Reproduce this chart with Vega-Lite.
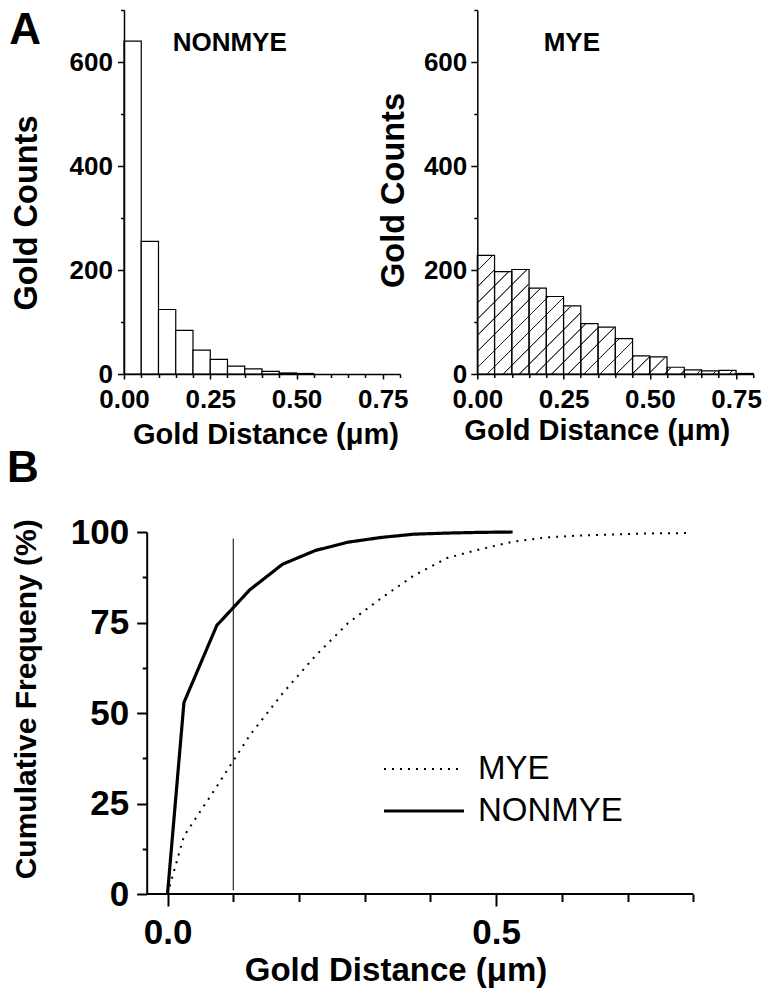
{
  "$schema": "https://vega.github.io/schema/vega-lite/v6.json",
  "background": "white",
  "padding": {"left": 6, "top": 9, "right": 5, "bottom": 5},
  "config": {
    "view": {"stroke": null},
    "font": "Liberation Sans",
    "axis": {"domainColor": "black", "domainWidth": 1.5, "tickColor": "black", "tickWidth": 1.5, "labelColor": "black", "labelFont": "Liberation Sans", "labelFontWeight": "bold", "titleColor": "black", "titleFont": "Liberation Sans", "titleFontWeight": "bold", "grid": false, "labelOverlap": false, "labelFlush": false, "tickCount": 100}
  },
  "datasets": {
    "hist": [
      {"series": "NONMYE", "start": 0.0, "end": 0.05, "count": 640},
      {"series": "NONMYE", "start": 0.05, "end": 0.1, "count": 255},
      {"series": "NONMYE", "start": 0.1, "end": 0.15, "count": 124},
      {"series": "NONMYE", "start": 0.15, "end": 0.2, "count": 84},
      {"series": "NONMYE", "start": 0.2, "end": 0.25, "count": 46},
      {"series": "NONMYE", "start": 0.25, "end": 0.3, "count": 28},
      {"series": "NONMYE", "start": 0.3, "end": 0.35, "count": 15},
      {"series": "NONMYE", "start": 0.35, "end": 0.4, "count": 10},
      {"series": "NONMYE", "start": 0.4, "end": 0.45, "count": 5},
      {"series": "NONMYE", "start": 0.45, "end": 0.5, "count": 2},
      {"series": "NONMYE", "start": 0.5, "end": 0.55, "count": 1},
      {"series": "MYE", "start": 0.0, "end": 0.05, "count": 228},
      {"series": "MYE", "start": 0.05, "end": 0.1, "count": 197},
      {"series": "MYE", "start": 0.1, "end": 0.15, "count": 201},
      {"series": "MYE", "start": 0.15, "end": 0.2, "count": 165},
      {"series": "MYE", "start": 0.2, "end": 0.25, "count": 149},
      {"series": "MYE", "start": 0.25, "end": 0.3, "count": 131},
      {"series": "MYE", "start": 0.3, "end": 0.35, "count": 97},
      {"series": "MYE", "start": 0.35, "end": 0.4, "count": 90},
      {"series": "MYE", "start": 0.4, "end": 0.45, "count": 68},
      {"series": "MYE", "start": 0.45, "end": 0.5, "count": 35},
      {"series": "MYE", "start": 0.5, "end": 0.55, "count": 33},
      {"series": "MYE", "start": 0.55, "end": 0.6, "count": 13},
      {"series": "MYE", "start": 0.6, "end": 0.65, "count": 8},
      {"series": "MYE", "start": 0.65, "end": 0.7, "count": 6},
      {"series": "MYE", "start": 0.7, "end": 0.75, "count": 7},
      {"series": "MYE", "start": 0.75, "end": 0.8, "count": 1}
    ],
    "cum": [
      {"series": "NONMYE", "distance": 0.0, "freq": 0},
      {"series": "NONMYE", "distance": 0.025, "freq": 52.9},
      {"series": "NONMYE", "distance": 0.075, "freq": 74.2},
      {"series": "NONMYE", "distance": 0.125, "freq": 84.0},
      {"series": "NONMYE", "distance": 0.175, "freq": 91.1},
      {"series": "NONMYE", "distance": 0.225, "freq": 94.9},
      {"series": "NONMYE", "distance": 0.275, "freq": 97.2},
      {"series": "NONMYE", "distance": 0.325, "freq": 98.5},
      {"series": "NONMYE", "distance": 0.375, "freq": 99.4},
      {"series": "NONMYE", "distance": 0.425, "freq": 99.7},
      {"series": "NONMYE", "distance": 0.475, "freq": 99.9},
      {"series": "NONMYE", "distance": 0.525, "freq": 100},
      {"series": "MYE", "distance": 0.0, "freq": 0},
      {"series": "MYE", "distance": 0.025, "freq": 16.0},
      {"series": "MYE", "distance": 0.075, "freq": 29.7},
      {"series": "MYE", "distance": 0.125, "freq": 43.8},
      {"series": "MYE", "distance": 0.175, "freq": 55.4},
      {"series": "MYE", "distance": 0.225, "freq": 65.8},
      {"series": "MYE", "distance": 0.275, "freq": 74.9},
      {"series": "MYE", "distance": 0.325, "freq": 81.7},
      {"series": "MYE", "distance": 0.375, "freq": 88.0},
      {"series": "MYE", "distance": 0.425, "freq": 92.8},
      {"series": "MYE", "distance": 0.475, "freq": 95.2},
      {"series": "MYE", "distance": 0.525, "freq": 97.3},
      {"series": "MYE", "distance": 0.575, "freq": 98.5},
      {"series": "MYE", "distance": 0.625, "freq": 99.0},
      {"series": "MYE", "distance": 0.675, "freq": 99.3},
      {"series": "MYE", "distance": 0.725, "freq": 99.6},
      {"series": "MYE", "distance": 0.79, "freq": 99.7}
    ]
  },
  "columns": 2,
  "bounds": "flush",
  "spacing": {"row": 158, "column": 77.3},
  "concat": [
    {
      "width": 276, "height": 364,
      "layer": [
        {
          "data": {"name": "hist"},
          "transform": [{"filter": "datum.series == 'NONMYE'"}],
          "mark": {"type": "rect", "fill": "white", "stroke": "black", "strokeWidth": 1.2},
          "encoding": {
            "x": {"field": "start", "type": "quantitative", "title": "Gold Distance (μm)",
              "scale": {"domain": [0, 0.8], "nice": false, "zero": false},
              "axis": {"values": [0, 0.05, 0.1, 0.15, 0.2, 0.25, 0.3, 0.35, 0.4, 0.45, 0.5, 0.55, 0.6, 0.65, 0.7, 0.75, 0.8],
                "labelExpr": "abs(datum.value * 4 - round(datum.value * 4)) < 0.001 && datum.value < 0.79 ? format(datum.value, '.2f') : ''",
                "tickSize": {"condition": {"test": "abs(datum.value * 4 - round(datum.value * 4)) > 0.001", "value": 3.5}, "value": 5},
                "labelFontSize": 26, "labelPadding": 7, "titleFontSize": 29, "titleX": 141.5, "titleY": 69, "titleBaseline": "alphabetic", "titleAlign": "center", "zindex": 1}},
            "x2": {"field": "end"},
            "y": {"field": "count", "type": "quantitative", "title": "Gold Counts",
              "scale": {"domain": [0, 700], "nice": false},
              "axis": {"values": [0, 100, 200, 300, 400, 500, 600, 700],
                "labelExpr": "datum.value % 200 == 0 && datum.value < 700 ? format(datum.value, 'd') : ''",
                "labelFontSize": {"condition": {"test": "datum.value % 200 != 0", "value": 0}, "value": 26},
                "tickSize": {"condition": {"test": "datum.value % 200 != 0", "value": 3.5}, "value": 6.5},
                "labelPadding": 5, "titleFontSize": 32.5, "titleX": -87.5, "titleY": 202.5, "titleAngle": -90, "titleBaseline": "alphabetic", "titleAlign": "center", "zindex": 1}},
            "y2": {"datum": 0}
          }
        },
        {
          "data": {"values": [{"label": "NONMYE"}]},
          "mark": {"type": "text", "fontSize": 26, "fontWeight": "bold", "font": "Liberation Sans", "baseline": "alphabetic", "align": "center", "color": "black"},
          "encoding": {"text": {"field": "label"}, "x": {"datum": 0.3065, "type": "quantitative"}, "y": {"datum": 621.7, "type": "quantitative"}}
        },
        {
          "data": {"values": [{"label": "A"}]},
          "mark": {"type": "text", "fontSize": 44, "fontWeight": "bold", "font": "Liberation Sans", "baseline": "top", "align": "left", "color": "black"},
          "encoding": {"text": {"field": "label"}, "x": {"datum": -0.3325, "type": "quantitative"}, "y": {"datum": 701.9, "type": "quantitative"}}
        }
      ]
    },
    {
      "width": 276, "height": 364,
      "layer": [
        {
          "data": {"values": [{}]},
          "mark": {"type": "rect", "stroke": null, "fill": {"gradient": "linear", "x1": 0, "y1": 0, "x2": 1.205, "y2": 0.556, "stops": [
            {"offset": 0, "color": "white"},
            {"offset": 0.0176, "color": "white"}, {"offset": 0.0192, "color": "#222"}, {"offset": 0.0208, "color": "#222"}, {"offset": 0.0224, "color": "white"},
            {"offset": 0.0576, "color": "white"}, {"offset": 0.0592, "color": "#222"}, {"offset": 0.0608, "color": "#222"}, {"offset": 0.0624, "color": "white"},
            {"offset": 0.0976, "color": "white"}, {"offset": 0.0992, "color": "#222"}, {"offset": 0.1008, "color": "#222"}, {"offset": 0.1024, "color": "white"},
            {"offset": 0.1376, "color": "white"}, {"offset": 0.1392, "color": "#222"}, {"offset": 0.1408, "color": "#222"}, {"offset": 0.1424, "color": "white"},
            {"offset": 0.1776, "color": "white"}, {"offset": 0.1792, "color": "#222"}, {"offset": 0.1808, "color": "#222"}, {"offset": 0.1824, "color": "white"},
            {"offset": 0.2176, "color": "white"}, {"offset": 0.2192, "color": "#222"}, {"offset": 0.2208, "color": "#222"}, {"offset": 0.2224, "color": "white"},
            {"offset": 0.2576, "color": "white"}, {"offset": 0.2592, "color": "#222"}, {"offset": 0.2608, "color": "#222"}, {"offset": 0.2624, "color": "white"},
            {"offset": 0.2976, "color": "white"}, {"offset": 0.2992, "color": "#222"}, {"offset": 0.3008, "color": "#222"}, {"offset": 0.3024, "color": "white"},
            {"offset": 0.3376, "color": "white"}, {"offset": 0.3392, "color": "#222"}, {"offset": 0.3408, "color": "#222"}, {"offset": 0.3424, "color": "white"},
            {"offset": 0.3776, "color": "white"}, {"offset": 0.3792, "color": "#222"}, {"offset": 0.3808, "color": "#222"}, {"offset": 0.3824, "color": "white"},
            {"offset": 0.4176, "color": "white"}, {"offset": 0.4192, "color": "#222"}, {"offset": 0.4208, "color": "#222"}, {"offset": 0.4224, "color": "white"},
            {"offset": 0.4576, "color": "white"}, {"offset": 0.4592, "color": "#222"}, {"offset": 0.4608, "color": "#222"}, {"offset": 0.4624, "color": "white"},
            {"offset": 0.4976, "color": "white"}, {"offset": 0.4992, "color": "#222"}, {"offset": 0.5008, "color": "#222"}, {"offset": 0.5024, "color": "white"},
            {"offset": 0.5376, "color": "white"}, {"offset": 0.5392, "color": "#222"}, {"offset": 0.5408, "color": "#222"}, {"offset": 0.5424, "color": "white"},
            {"offset": 0.5776, "color": "white"}, {"offset": 0.5792, "color": "#222"}, {"offset": 0.5808, "color": "#222"}, {"offset": 0.5824, "color": "white"},
            {"offset": 0.6176, "color": "white"}, {"offset": 0.6192, "color": "#222"}, {"offset": 0.6208, "color": "#222"}, {"offset": 0.6224, "color": "white"},
            {"offset": 0.6576, "color": "white"}, {"offset": 0.6592, "color": "#222"}, {"offset": 0.6608, "color": "#222"}, {"offset": 0.6624, "color": "white"},
            {"offset": 0.6976, "color": "white"}, {"offset": 0.6992, "color": "#222"}, {"offset": 0.7008, "color": "#222"}, {"offset": 0.7024, "color": "white"},
            {"offset": 0.7376, "color": "white"}, {"offset": 0.7392, "color": "#222"}, {"offset": 0.7408, "color": "#222"}, {"offset": 0.7424, "color": "white"},
            {"offset": 0.7776, "color": "white"}, {"offset": 0.7792, "color": "#222"}, {"offset": 0.7808, "color": "#222"}, {"offset": 0.7824, "color": "white"},
            {"offset": 0.8176, "color": "white"}, {"offset": 0.8192, "color": "#222"}, {"offset": 0.8208, "color": "#222"}, {"offset": 0.8224, "color": "white"},
            {"offset": 0.8576, "color": "white"}, {"offset": 0.8592, "color": "#222"}, {"offset": 0.8608, "color": "#222"}, {"offset": 0.8624, "color": "white"},
            {"offset": 0.8976, "color": "white"}, {"offset": 0.8992, "color": "#222"}, {"offset": 0.9008, "color": "#222"}, {"offset": 0.9024, "color": "white"},
            {"offset": 0.9376, "color": "white"}, {"offset": 0.9392, "color": "#222"}, {"offset": 0.9408, "color": "#222"}, {"offset": 0.9424, "color": "white"},
            {"offset": 0.9776, "color": "white"}, {"offset": 0.9792, "color": "#222"}, {"offset": 0.9808, "color": "#222"}, {"offset": 0.9824, "color": "white"},
            {"offset": 1, "color": "white"}
          ]}},
          "encoding": {"x": {"datum": 0, "type": "quantitative"}, "x2": {"datum": 0.8}, "y": {"datum": 0, "type": "quantitative"}, "y2": {"datum": 245}}
        },
        {
          "data": {"name": "hist"},
          "transform": [{"filter": "datum.series == 'MYE'"}],
          "mark": {"type": "rect", "fill": "white", "stroke": "white", "strokeWidth": 1},
          "encoding": {
            "x": {"field": "start", "type": "quantitative", "title": "Gold Distance (μm)"},
            "x2": {"field": "end"},
            "y": {"field": "count", "type": "quantitative", "title": "Gold Counts"},
            "y2": {"datum": 250}
          }
        },
        {
          "data": {"name": "hist"},
          "transform": [{"filter": "datum.series == 'MYE'"}],
          "mark": {"type": "rect", "fillOpacity": 0, "stroke": "black", "strokeWidth": 1.2},
          "encoding": {
            "x": {"field": "start", "type": "quantitative", "title": "Gold Distance (μm)",
              "scale": {"domain": [0, 0.8], "nice": false, "zero": false},
              "axis": {"values": [0, 0.05, 0.1, 0.15, 0.2, 0.25, 0.3, 0.35, 0.4, 0.45, 0.5, 0.55, 0.6, 0.65, 0.7, 0.75, 0.8],
                "labelExpr": "abs(datum.value * 4 - round(datum.value * 4)) < 0.001 && datum.value < 0.79 ? format(datum.value, '.2f') : ''",
                "tickSize": {"condition": {"test": "abs(datum.value * 4 - round(datum.value * 4)) > 0.001", "value": 3.5}, "value": 5},
                "labelFontSize": 26, "labelPadding": 7, "titleFontSize": 29, "titleX": 119.5, "titleY": 65, "titleBaseline": "alphabetic", "titleAlign": "center", "zindex": 1}},
            "x2": {"field": "end"},
            "y": {"field": "count", "type": "quantitative", "title": "Gold Counts",
              "scale": {"domain": [0, 700], "nice": false},
              "axis": {"values": [0, 100, 200, 300, 400, 500, 600, 700],
                "labelExpr": "datum.value % 200 == 0 && datum.value < 700 ? format(datum.value, 'd') : ''",
                "labelFontSize": {"condition": {"test": "datum.value % 200 != 0", "value": 0}, "value": 26},
                "tickSize": {"condition": {"test": "datum.value % 200 != 0", "value": 3.5}, "value": 6.5},
                "labelPadding": 4, "titleFontSize": 32.5, "titleX": -74, "titleY": 180, "titleAngle": -90, "titleBaseline": "alphabetic", "titleAlign": "center", "zindex": 1}},
            "y2": {"datum": 0}
          }
        },
        {
          "data": {"values": [{"label": "MYE"}]},
          "mark": {"type": "text", "fontSize": 26, "fontWeight": "bold", "font": "Liberation Sans", "baseline": "alphabetic", "align": "center", "color": "black"},
          "encoding": {"text": {"field": "label"}, "x": {"datum": 0.274, "type": "quantitative"}, "y": {"datum": 621.7, "type": "quantitative"}}
        }
      ]
    },
    {
      "width": 276, "height": 362,
      "layer": [
        {
          "data": {"values": [{}]},
          "mark": {"type": "rule", "strokeWidth": 2, "color": "black"},
          "encoding": {"x": {"datum": -0.0317, "type": "quantitative"}, "x2": {"datum": 0.8}, "y": {"datum": 0, "type": "quantitative"}}
        },
        {
          "data": {"values": [{}]},
          "mark": {"type": "rule", "strokeWidth": 1, "color": "black"},
          "encoding": {"x": {"datum": 0.1, "type": "quantitative"}, "y": {"datum": 1, "type": "quantitative"}, "y2": {"datum": 98.2}}
        },
        {
          "data": {"values": [{"label": "B"}]},
          "mark": {"type": "text", "fontSize": 44, "fontWeight": "bold", "font": "Liberation Sans", "baseline": "alphabetic", "align": "left", "color": "black"},
          "encoding": {"text": {"field": "label"}, "x": {"datum": -0.2442, "type": "quantitative"}, "y": {"datum": 113.8, "type": "quantitative"}}
        },
        {
          "data": {"name": "cum"},
          "mark": {"type": "line", "color": "black", "strokeCap": "butt", "strokeJoin": "round"},
          "encoding": {
            "x": {"field": "distance", "type": "quantitative", "title": "Gold Distance (μm)",
              "scale": {"domain": [-0.0662, 0.8], "range": [0, 569.4], "nice": false, "zero": false},
              "axis": {"domain": false, "values": [0, 0.1, 0.2, 0.3, 0.4, 0.5, 0.6, 0.7, 0.8],
                "labelExpr": "datum.value == 0 || datum.value == 0.5 ? format(datum.value, '.1f') : ''",
                "tickSize": {"condition": {"test": "datum.value != 0 && datum.value != 0.5", "value": 7.5}, "value": 12},
                "tickWidth": 2, "labelFontSize": 35, "labelPadding": 9, "titleFontSize": 33, "titleX": 271.5, "titleY": 86.6, "titleBaseline": "alphabetic", "titleAlign": "center", "zindex": 1}},
            "y": {"field": "freq", "type": "quantitative", "title": "Cumulative Frequeny (%)",
              "scale": {"domain": [0, 100], "nice": false},
              "axis": {"offset": -22.7, "values": [0, 12.5, 25, 37.5, 50, 62.5, 75, 87.5, 100],
                "labelExpr": "datum.value % 25 == 0 ? format(datum.value, 'd') : ''",
                "tickSize": {"condition": {"test": "datum.value % 25 != 0", "value": 4.5}, "value": 10},
                "domainWidth": 2, "tickWidth": 2, "labelFontSize": 35, "labelPadding": 8, "titleFontSize": 30, "titleX": -111.7, "titleY": 166.8, "titleAngle": -90, "titleBaseline": "alphabetic", "titleAlign": "center", "zindex": 1}},
            "strokeDash": {"field": "series", "type": "ordinal",
              "scale": {"domain": ["MYE", "NONMYE"], "range": [[2, 6], [1, 0]]},
              "legend": {"orient": "none", "legendX": 258, "legendY": 744, "title": null, "symbolType": "stroke", "symbolSize": 6400, "symbolStrokeColor": "black", "labelFont": "Liberation Sans", "labelFontSize": 33, "labelFontWeight": "normal", "labelColor": "black", "labelOffset": 12, "clipHeight": 30, "rowPadding": 9, "padding": 0}},
            "strokeWidth": {"field": "series", "type": "ordinal",
              "scale": {"domain": ["MYE", "NONMYE"], "range": [2, 3.2]},
              "legend": {"orient": "none", "legendX": 258, "legendY": 744, "title": null, "symbolType": "stroke", "symbolSize": 6400, "symbolStrokeColor": "black", "labelFont": "Liberation Sans", "labelFontSize": 33, "labelFontWeight": "normal", "labelColor": "black", "labelOffset": 12, "clipHeight": 30, "rowPadding": 9, "padding": 0}}
          }
        }
      ]
    }
  ]
}
